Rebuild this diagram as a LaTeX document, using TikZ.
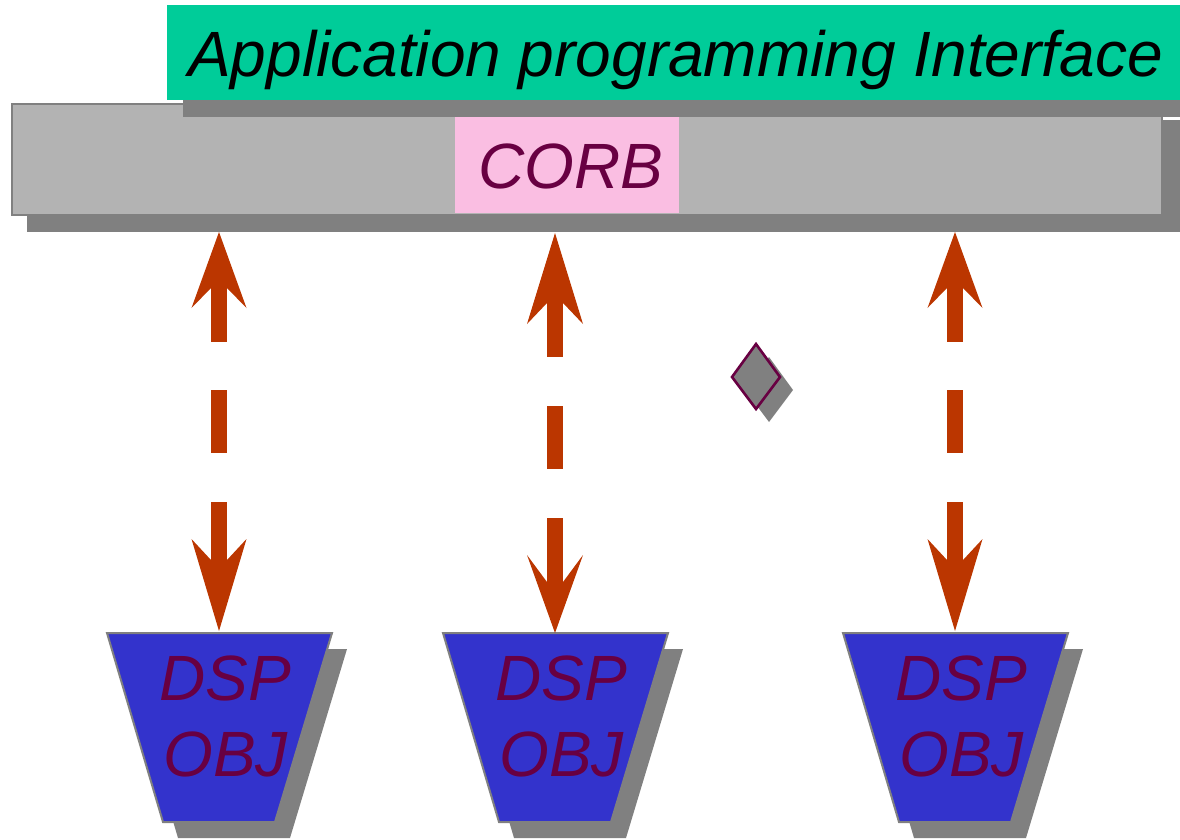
\documentclass[tikz,border=0pt]{standalone}
\usepackage{fontspec}
\setmainfont{Liberation Sans}
\usetikzlibrary{calc}

\definecolor{apigreen}{RGB}{0,204,153}
\definecolor{shadowgray}{RGB}{128,128,128}
\definecolor{bargray}{RGB}{179,179,179}
\definecolor{corbpink}{RGB}{250,190,226}
\definecolor{objblue}{RGB}{51,51,204}
\definecolor{labelplum}{RGB}{104,0,66}
\definecolor{linkred}{RGB}{187,54,0}

\tikzset{
  bigtext/.style={font=\fontsize{64}{76}\selectfont\itshape, inner sep=0pt},
  shaft/.style={draw=linkred, line width=16pt},
  headfill/.style={fill=linkred, draw=none},
  objbox/.style={fill=objblue, draw=shadowgray, line width=2pt, line join=miter},
}

\begin{document}
\begin{tikzpicture}[x=1pt,y=-1pt]
\useasboundingbox (0,0) rectangle (1180,839);
\begin{scope}
\clip (0,0) rectangle (1180,839);

% middleware bar and its drop shadow
\fill[shadowgray] (27,120) rectangle (1190,232);
\fill[bargray] (12,104) rectangle (1162,215);
\draw[shadowgray, line width=2pt] (12,104) rectangle (1162,215);

% CORB block inside the bar
\fill[corbpink] (455,108) rectangle (679,213);
\node[bigtext, text=labelplum, anchor=base] (corb) at (571,188) {CORB};

% API banner and its drop shadow
\fill[shadowgray] (183,22) rectangle (1200,117);
\fill[apigreen] (167,5) rectangle (1200,100);
\node[bigtext, text=black, anchor=base west] (api) at (188,76) {Application programming Interface};
\end{scope}

% object blocks: shadow, trapezoid, label
\foreach \cx/\n in {219.5/1, 555.5/2, 955.5/3}{
  \fill[shadowgray] ($(\cx,633)+(-97.5,16)$) -- ++(225,0) -- ++(-57,189) -- ++(-112,0) -- cycle;
  \draw[objbox] ($(\cx,633)+(-112.5,0)$) coordinate (tl\n) -- ++(225,0) coordinate (tr\n)
        -- ++(-57,189) -- ++(-112,0) -- cycle;
  \node[bigtext, text=labelplum, anchor=base] (dsp\n) at ($(\cx,700)+(6,0)$) {DSP};
  \node[bigtext, text=labelplum, anchor=base] (obj\n) at ($(\cx,776)+(6,0)$) {OBJ};
}

% link end points
\coordinate (u1) at (219,232);  \coordinate (d1) at (219,631);
\coordinate (u2) at (555,233);  \coordinate (d2) at (555,633);
\coordinate (u3) at (955,232);  \coordinate (d3) at (955,631);

% dashed double-headed links
\draw[shaft, dash pattern=on 54pt off 48pt on 63pt off 49pt on 80pt]
  ($(u1)+(0,56)$) -- ($(d1)+(0,-71)$);
\fill[headfill] (u1) -- ++(27.5,76) -- ++(-19.5,-20) -- ++(-16,0) -- ++(-19.5,20) -- cycle;
\fill[headfill] (d1) -- ++(27.5,-92) -- ++(-19.5,21) -- ++(-16,0) -- ++(-19.5,-21) -- cycle;

\draw[shaft, dash pattern=on 54pt off 49pt on 63pt off 49pt on 80pt]
  ($(u2)+(0,70)$) -- ($(d2)+(0,-51)$);
\fill[headfill] (u2) -- ++(28,91) -- ++(-20,-21) -- ++(-16,0) -- ++(-20,21) -- cycle;
\fill[headfill] (d2) -- ++(28,-78) -- ++(-20,27) -- ++(-16,0) -- ++(-20,-27) -- cycle;

\draw[shaft, dash pattern=on 54pt off 48pt on 63pt off 49pt on 80pt]
  ($(u3)+(0,56)$) -- ($(d3)+(0,-71)$);
\fill[headfill] (u3) -- ++(27.5,76) -- ++(-19.5,-20) -- ++(-16,0) -- ++(-19.5,20) -- cycle;
\fill[headfill] (d3) -- ++(27.5,-92) -- ++(-19.5,21) -- ++(-16,0) -- ++(-19.5,-21) -- cycle;

% small diamond with its shadow
\coordinate (dm) at (756,377);
\fill[shadowgray] ($(dm)+(13,-20)$) -- ++(24,33) -- ++(-24,32) -- ++(-24,-32) -- cycle;
\filldraw[fill=shadowgray, draw=labelplum, line width=2.6pt, line join=miter]
  ($(dm)+(0,-33)$) -- ++(24,33) -- ++(-24,32) -- ++(-24,-32) -- cycle;
\end{tikzpicture}
\end{document}
